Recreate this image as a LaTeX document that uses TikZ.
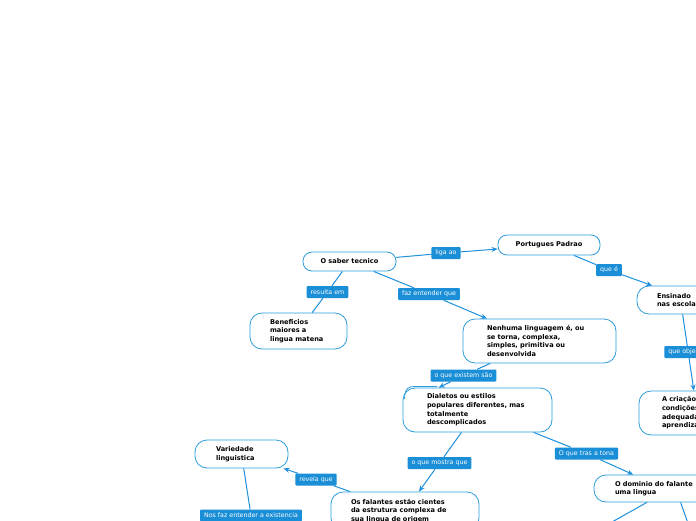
\documentclass[tikz,border=0pt]{standalone}
\usepackage{fontspec}
\setmainfont{DejaVu Sans}
\usetikzlibrary{arrows.meta,calc}
\definecolor{nodeblue}{RGB}{45,156,219}
\definecolor{labblue}{RGB}{26,142,214}
\definecolor{lineblue}{RGB}{30,144,220}
\begin{document}
\begin{tikzpicture}[x=1pt,y=-1pt,
  box/.style={draw=nodeblue, line width=0.8pt, rounded corners=12pt, fill=white,
    font=\fontsize{6.6}{8.6}\selectfont\bfseries, align=left, inner ysep=0pt},
  pill/.style={rounded corners=9pt, align=center, inner xsep=10pt},
  lab/.style={fill=labblue, text=white, font=\fontsize{6.3}{7}\selectfont,
    rounded corners=1pt, inner xsep=4pt, inner ysep=0pt, minimum height=12pt},
  conn/.style={draw=lineblue, line width=1pt},
  arr/.style={conn, -{Stealth[length=6pt,width=5pt]}}]
\useasboundingbox (0,0) rectangle (696,520);
\fill[white] (0,0) rectangle (696,520);
\clip (0,0) rectangle (696,520);

% concept nodes
\node[box, pill, minimum height=19pt, text width=73pt] (saber) at (349.5,261.5) {O saber tecnico};
\node[box, pill, minimum height=20pt, text width=82pt] (padrao) at (549,245) {Portugues Padrao};
\node[box, minimum height=36pt, text width=57pt, inner xsep=20pt] (benef) at (298.5,331) {Beneficios\\maiores a\\lingua matena};
\node[box, minimum height=44pt, text width=105pt, inner xsep=24pt] (nenhuma) at (539.5,341) {Nenhuma linguagem é, ou\\se torna, complexa,\\simples, primitiva ou\\desenvolvida};
\node[box, minimum height=28pt, text width=70pt, inner xsep=20pt] (ensinado) at (692,300) {Ensinado\\nas escolas};
\node[box, minimum height=44pt, text width=74pt, inner xsep=23pt] (criacao) at (699,413) {A criação de\\condições\\adequadas\\aprendizagem};
\node[box, minimum height=44pt, text width=101pt, inner xsep=24pt] (dialetos) at (477.5,410) {Dialetos ou estilos\\populares diferentes, mas\\totalmente\\descomplicados};
\node[box, minimum height=27pt, text width=98pt, inner xsep=21pt] (dominio) at (664,488.5) {O dominio do falante\\uma lingua};
\node[box, minimum height=28pt, text width=51pt, inner xsep=21pt] (variedade) at (241.5,454) {Variedade\\linguistica};
\node[box, minimum height=38pt, text width=108pt, inner xsep=20pt] (falantes) at (405,511) {Os falantes estão cientes\\da estrutura complexa de\\sua lingua de origem};

% small stray outline behind "Dialetos"
\draw[draw=nodeblue, line width=0.8pt] (404.5,399) .. controls (405,388) and (408,386.5) .. (415,386.5) -- (437,386.5);

% linking labels
\node[lab] (liga) at (446,253) {liga ao};
\node[lab] (resulta) at (327.5,292) {resulta em};
\node[lab] (faz) at (429,294) {faz entender que};
\node[lab] (quee) at (609,270) {que é};
\node[lab] (existem) at (463.5,375.5) {o que existem são};
\node[lab] (mostra) at (439.5,463) {o que mostra que};
\node[lab] (tona) at (586.5,453.5) {O que tras a tona};
\node[lab] (revela) at (316,479.5) {revela que};
\node[lab] (nosfaz) at (251,515.5) {Nos faz entender a existencia};

\coordinate (d1) at (580,540);
\coordinate (d2) at (694,540);

% connectors
\draw[arr] (saber) -- (liga) -- (padrao);
\draw[conn] (saber) -- (resulta) -- (benef);
\draw[arr] (saber) -- (faz) -- (nenhuma);
\draw[arr] (padrao) -- (quee) -- (ensinado);
\draw[arr] (ensinado.-123) -- (criacao.103);
\draw[arr] (nenhuma) -- (existem) -- (dialetos.150);
\draw[arr] (dialetos) -- (mostra) -- (falantes);
\draw[arr] (dialetos) -- (tona) -- (dominio);
\draw[arr] (falantes) -- (revela) -- (variedade);
\draw[conn] (variedade) -- (nosfaz);
\draw[conn] (dominio.-141) -- (d1);
\draw[conn] (dominio.-40) -- (d2);

\node[lab] (queobj) at (688,352) {que objetiva};
\end{tikzpicture}
\end{document}
